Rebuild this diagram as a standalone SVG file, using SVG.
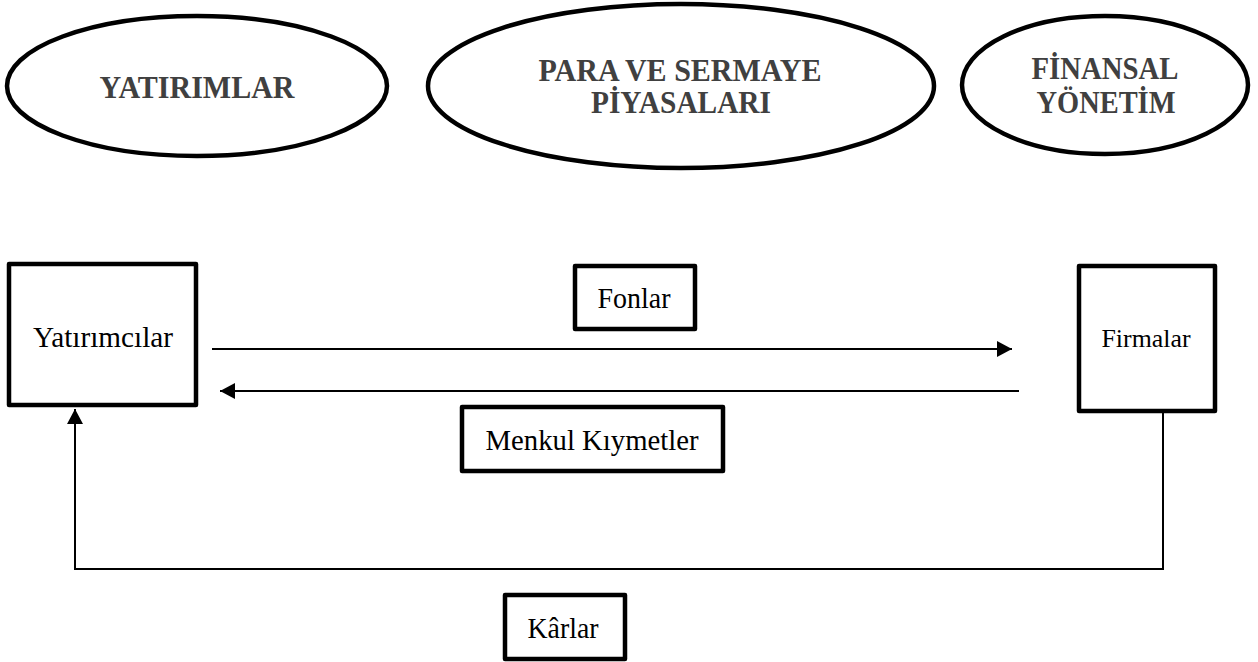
<svg xmlns="http://www.w3.org/2000/svg" width="1258" height="662" viewBox="0 0 1258 662">
<style>
.ell{fill:#fff;stroke:#000;stroke-width:4.5}
.box{fill:#fff;stroke:#000;stroke-width:4.5;stroke-linejoin:round}
.title{font-family:"Liberation Serif","Times New Roman",serif;font-weight:bold;font-size:31px;fill:#404040;text-anchor:middle}
.lbl{font-family:"Liberation Serif","Times New Roman",serif;font-size:30px;fill:#000;text-anchor:middle}
.con{fill:none;stroke:#000;stroke-width:2}
</style>
<defs>
<marker id="arr" markerWidth="16" markerHeight="16" viewBox="0 0 16 16" refX="15" refY="8" orient="auto" markerUnits="userSpaceOnUse">
<path d="M0,0 L15,8 L0,16 Z" fill="#000"/>
</marker>
</defs>
<rect width="1258" height="662" fill="#fff"/>
<g id="yatirimlar">
<ellipse class="ell" cx="197" cy="86" rx="190" ry="70"/>
<text class="title" x="197" y="98" textLength="195" lengthAdjust="spacingAndGlyphs">YATIRIMLAR</text>
</g>
<g id="para-sermaye">
<ellipse class="ell" cx="681" cy="86" rx="253" ry="82"/>
<text class="title" x="680" y="81" textLength="283" lengthAdjust="spacingAndGlyphs">PARA VE SERMAYE</text>
<text class="title" x="681" y="113" textLength="180" lengthAdjust="spacingAndGlyphs">PİYASALARI</text>
</g>
<g id="finansal">
<ellipse class="ell" cx="1105" cy="85" rx="143" ry="69"/>
<text class="title" x="1105" y="79" textLength="147" lengthAdjust="spacingAndGlyphs">FİNANSAL</text>
<text class="title" x="1106" y="113" textLength="139" lengthAdjust="spacingAndGlyphs">YÖNETİM</text>
</g>
<g id="yatirimcilar">
<rect class="box" x="9" y="264" width="187" height="141"/>
<text class="lbl" x="103" y="347" textLength="140" lengthAdjust="spacingAndGlyphs">Yatırımcılar</text>
</g>
<g id="firmalar">
<rect class="box" x="1079" y="266" width="136" height="145"/>
<text class="lbl" x="1146" y="347" style="font-size:26px" textLength="89" lengthAdjust="spacingAndGlyphs">Firmalar</text>
</g>
<g id="fonlar">
<rect class="box" x="575" y="266" width="120" height="63"/>
<text class="lbl" x="634" y="308" textLength="73" lengthAdjust="spacingAndGlyphs">Fonlar</text>
</g>
<g id="menkul">
<rect class="box" x="462" y="407" width="261" height="64"/>
<text class="lbl" x="592" y="450" textLength="213" lengthAdjust="spacingAndGlyphs">Menkul Kıymetler</text>
</g>
<g id="karlar">
<rect class="box" x="505" y="595" width="120" height="64"/>
<text class="lbl" x="563" y="638" textLength="71" lengthAdjust="spacingAndGlyphs">Kârlar</text>
</g>
<g id="connectors">
<line class="con" x1="212" y1="349" x2="1012" y2="349" marker-end="url(#arr)"/>
<line class="con" x1="1019" y1="391" x2="220" y2="391" marker-end="url(#arr)"/>
<polyline class="con" points="1163,413 1163,569 75,569 75,409" marker-end="url(#arr)"/>
</g>
</svg>
